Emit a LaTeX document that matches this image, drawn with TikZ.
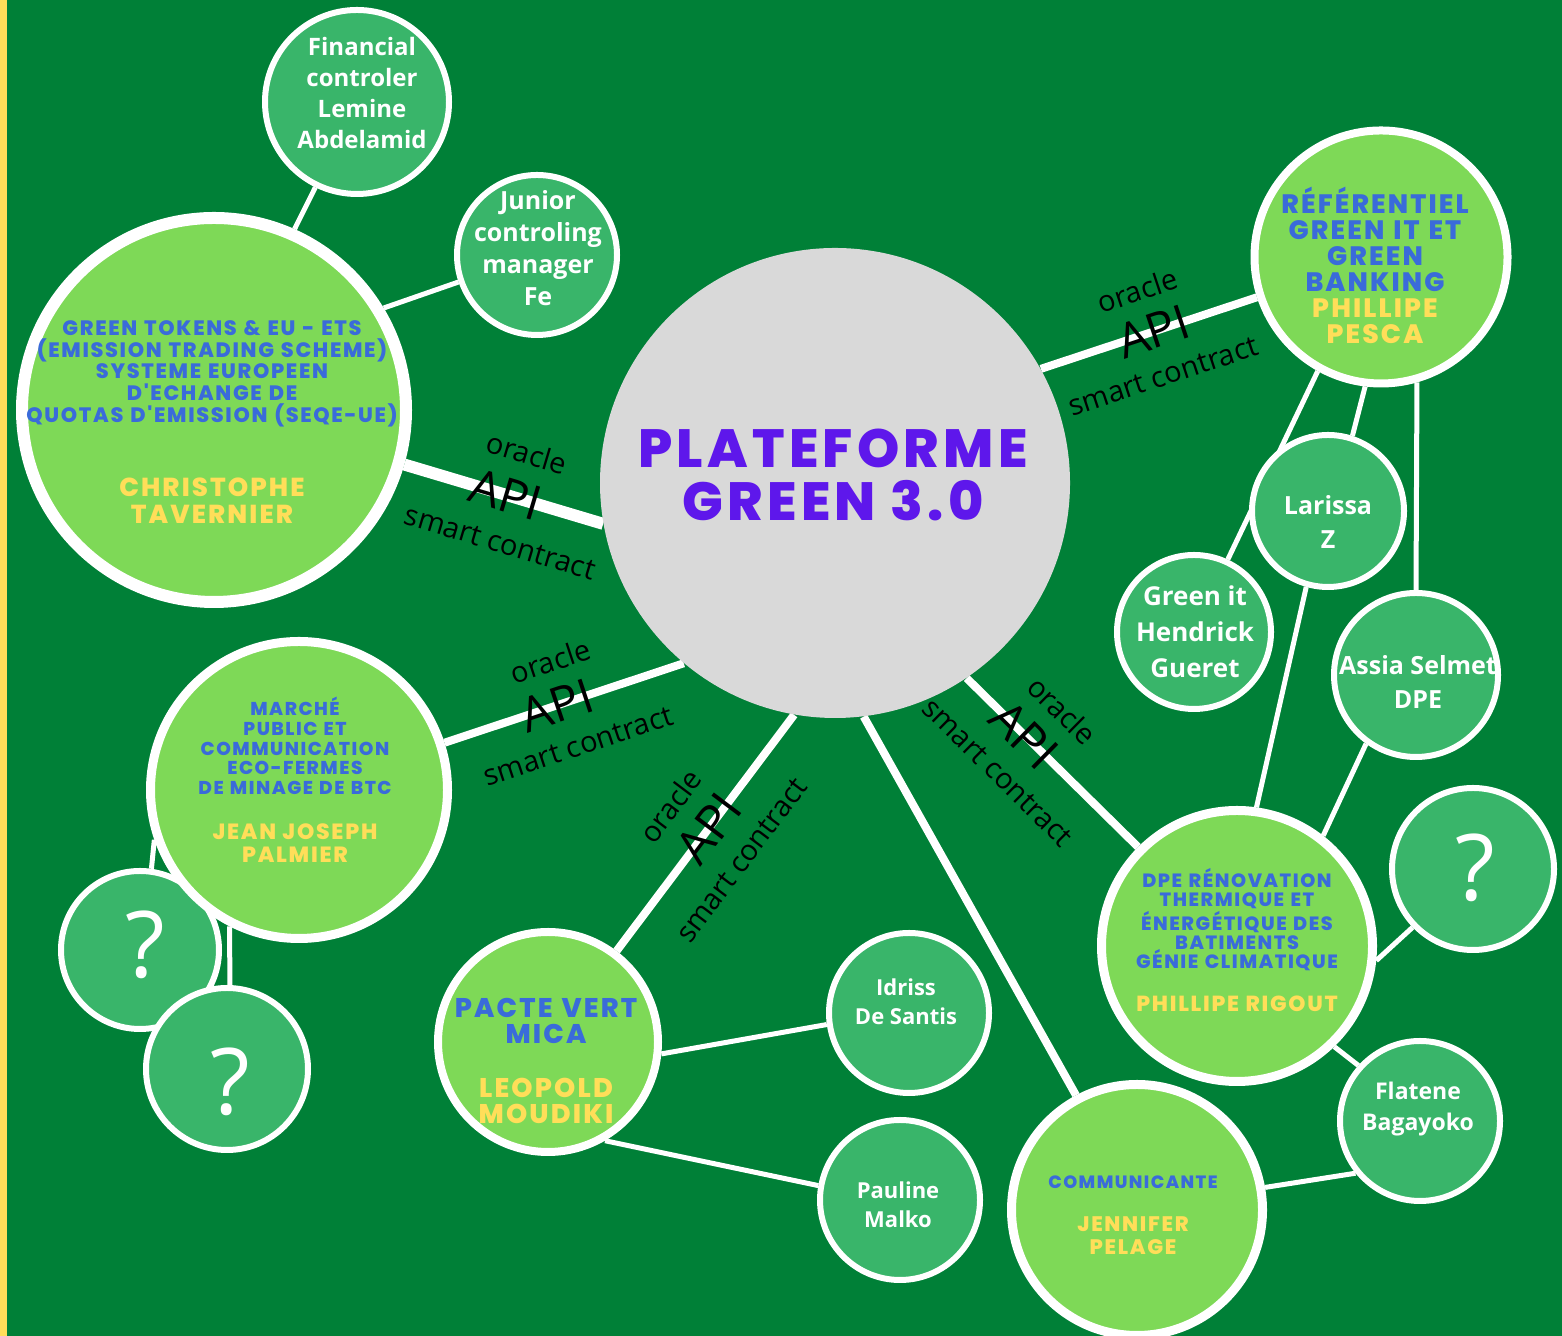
\documentclass[tikz,border=0pt]{standalone}
\usepackage{fontspec}
\newfontfamily\capsfont{Poppins}[BoldFont={Poppins ExtraBold}, LetterSpace=8]
\newfontfamily\namefont{Open Sans}
\setlength{\parindent}{0pt}

\definecolor{bggreen}{HTML}{008037}
\definecolor{stripe}{HTML}{FFDE59}
\definecolor{lightgreen}{HTML}{7ED957}
\definecolor{midgreen}{HTML}{39B56A}
\definecolor{topicblue}{HTML}{3A6BDA}
\definecolor{nameyellow}{HTML}{FFDE59}
\definecolor{platgray}{HTML}{D9D9D9}
\definecolor{titleviolet}{HTML}{5E17EB}

\newcommand{\fsz}[2]{\fontsize{#1}{#2}\selectfont}

\pgfdeclarelayer{bg}
\pgfdeclarelayer{links}
\pgfsetlayers{bg,links,main}

\tikzset{
  bigbub/.style={circle, draw=white, line width=4.5pt, fill=lightgreen, inner sep=0pt},
  smallbub/.style={circle, draw=white, line width=3pt, fill=midgreen, inner sep=0pt},
  topic/.style 2 args={align=center, inner sep=0pt, text=topicblue, font=\capsfont\bfseries\fsz{#1}{#2}},
  who/.style 2 args={align=center, inner sep=0pt, text=white, font=\namefont\bfseries\fsz{#1}{#2}},
  ask/.style={inner sep=0pt, text=white, font=\namefont\fsz{46}{46}},
  link/.style={draw=white, line width=2.5pt},
  apilink/.style={draw=white, line width=4pt},
  lbloracle/.style={sloped, inner sep=0pt, above=14.5pt, font=\namefont\fsz{14.5}{15}},
  lblapi/.style={sloped, inner sep=0pt, font=\namefont\fsz{24}{24}},
  lblsmart/.style={sloped, inner sep=0pt, below=16pt, font=\namefont\fsz{14.5}{15}},
}

\begin{document}
\begin{tikzpicture}[x=0.5pt, y=0.5pt]
\useasboundingbox (0,0) rectangle (1562,1336);
\begin{pgfonlayer}{bg}
\fill[bggreen] (0,0) rectangle (1562,1336);
\fill[stripe] (0,0) rectangle (7,1336);
\end{pgfonlayer}

% platform in the middle
\node[circle, fill=platgray, inner sep=0pt, minimum size=235pt] (plat) at (835,853) {};
\node[align=center, inner sep=0pt, text=titleviolet, font=\capsfont\bfseries\fsz{26.9}{26.5}] (plat-t) at (833,861) {PLATEFORME\\GREEN 3.0};

% green tokens and its team
\node[bigbub, line width=6pt, minimum size=192pt] (gt) at (214,926) {};
\node[topic={10.4}{10.85}, text width=240pt] (gt-t) at (212,914) {GREEN TOKENS \& EU - ETS\\(EMISSION TRADING SCHEME)\\SYSTEME EUROPEEN\\D'ECHANGE DE\\QUOTAS D'EMISSION (SEQE-UE)\par\vspace{23.5pt}{\color{nameyellow}\fsz{13}{13.5}CHRISTOPHE\\TAVERNIER\par}};
\node[smallbub, minimum size=92pt] (fin) at (357,1234) {};
\node[who={12}{15.5}] (fin-t) at (362,1242.5) {Financial\\controler\\Lemine\\Abdelamid};
\node[smallbub, minimum size=80pt] (jun) at (537,1081) {};
\node[who={12.5}{16}] (jun-t) at (538,1088) {Junior\\controling\\manager\\Fe};

% marche public
\node[smallbub, minimum size=79pt] (q1) at (140,386) {};
\node[ask] (q1-t) at (145,391) {?};
\node[bigbub, minimum size=148.5pt] (mar) at (299,546) {};
\node[topic={9.3}{9.85}, text width=200pt] (mar-t) at (295,556) {MARCHÉ\\PUBLIC ET\\COMMUNICATION\\ECO-FERMES\\DE MINAGE DE BTC\par\vspace{11pt}{\color{nameyellow}\fsz{11}{11.5}JEAN JOSEPH\\PALMIER\par}};
\node[smallbub, minimum size=81pt] (q2) at (227,267) {};
\node[ask] (q2-t) at (230,254) {?};

% pacte vert
\node[bigbub, line width=4pt, minimum size=110pt] (pac) at (548,294) {};
\node[topic={13.5}{13}, text width=200pt] (pac-t) at (546,275) {PACTE VERT\\MICA\par\vspace{14pt}{\color{nameyellow}LEOPOLD\\MOUDIKI\par}};
\node[smallbub, minimum size=80pt] (idr) at (909,323) {};
\node[who={11}{14.5}] (idr-t) at (906,334.5) {Idriss\\De Santis};
\node[smallbub, minimum size=80pt] (pau) at (900,136) {};
\node[who={11}{14.5}] (pau-t) at (898,131.5) {Pauline\\Malko};

% communicante
\node[bigbub, minimum size=125.5pt] (com) at (1137,126) {};
\node[topic={8.9}{10}, text width=200pt] (com-t) at (1133,121) {COMMUNICANTE\par\vspace{9.75pt}{\color{nameyellow}\fsz{10.5}{11.5}JENNIFER\\PELAGE\par}};

% dpe
\node[bigbub, minimum size=135.5pt] (dpe) at (1237,390) {};
\node[topic={9.6}{9.6}, text width=200pt] (dpe-t) at (1237,396) {DPE RÉNOVATION\\THERMIQUE ET\\ÉNERGÉTIQUE DES\\BATIMENTS\\GÉNIE CLIMATIQUE\par\vspace{10.25pt}{\color{nameyellow}\fsz{10.9}{11}PHILLIPE RIGOUT\par}};
\node[smallbub, minimum size=81pt] (qr) at (1473,467) {};
\node[ask] (qr-t) at (1475,468) {?};
\node[smallbub, minimum size=80pt] (fla) at (1420,215) {};
\node[who={11.5}{15.5}] (fla-t) at (1418,226.5) {Flatene\\Bagayoko};

% referentiel
\node[bigbub, line width=4pt, minimum size=126.5pt] (ref) at (1381,1079) {};
\node[topic={13.3}{13}, text width=200pt] (ref-t) at (1375,1071) {RÉFÉRENTIEL\\GREEN IT ET\\GREEN\\BANKING\\{\color{nameyellow}PHILLIPE\\PESCA}};
\node[smallbub, minimum size=76pt] (lar) at (1328,825) {};
\node[who={12.5}{17}] (lar-t) at (1328,814) {Larissa\\Z};
\node[smallbub, minimum size=77pt] (hen) at (1194,704) {};
\node[who={13}{18}] (hen-t) at (1195,704) {Green it\\Hendrick\\Gueret};
\node[smallbub, minimum size=82pt] (ass) at (1416,661) {};
\node[who={12.5}{17}] (ass-t) at (1418,654) {Assia Selmet\\DPE};

\begin{pgfonlayer}{links}
\draw[apilink, line width=6pt] (gt.-16) -- node[lblapi, pos=0.51] (api1) {API} node[lbloracle, pos=0.55] (or1) {oracle} node[lblsmart, pos=0.55] (sc1) {smart contract} (plat.190);
\draw[apilink] (plat.29) -- node[lblapi, pos=0.52] (api2) {API} node[lbloracle, pos=0.51] (or2) {oracle} node[lblsmart, pos=0.5] (sc2) {smart contract} (ref.198);
\draw[apilink] (mar.18) -- node[lblapi, pos=0.47] (api3) {API} node[lbloracle, pos=0.5] (or3) {oracle} node[lblsmart, pos=0.5] (sc3) {smart contract} (plat.230);
\draw[apilink] (pac.53) -- node[lblapi, pos=0.52] (api4) {API} node[lbloracle, pos=0.5] (or4) {oracle} node[lblsmart, pos=0.5] (sc4) {smart contract} (plat.260);
\draw[apilink] (plat.-56) -- node[lblapi, pos=0.335] (api5) {API} node[lbloracle, pos=0.376] (or5) {oracle} node[lblsmart, pos=0.367] (sc5) {smart contract} (dpe.135);
\draw[apilink] (plat.-83) -- (com.118);
\draw[link] (gt.66) -- (fin.244);
\draw[link] (gt.31) -- (jun.199);
\draw[link] (ref.241) -- (hen.65);
\draw[link] (ref.263) -- (lar.72);
\draw[link] (ref.286) -- (ass.90);
\draw[link] (lar.254) -- (dpe.82);
\draw[link] (ass.234) -- (dpe.52);
\draw[link] (qr.224) -- (dpe.-6);
\draw[link] (dpe.-46) -- (fla.138);
\draw[link] (com.10) -- (fla.219);
\draw[link] (pac.-6) -- (idr.188);
\draw[link] (pac.-60) -- (pau.170);
\draw[link] (mar.199) -- (q1.82);
\draw[link] (mar.243) -- (q2.88);
\end{pgfonlayer}
\end{tikzpicture}
\end{document}
